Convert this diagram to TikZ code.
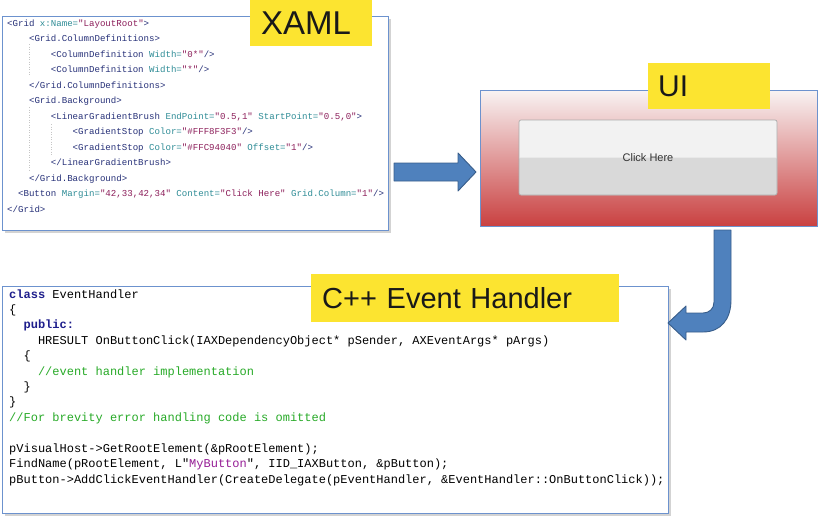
\documentclass[tikz,border=0pt]{standalone}
\usepackage{fontspec}
\setmainfont{Liberation Sans}
\newfontfamily\codefont{Liberation Mono}
\usetikzlibrary{shadows}
\definecolor{tagyellow}{RGB}{252,228,48}
\definecolor{boxline}{RGB}{108,146,206}
\definecolor{arrowfill}{RGB}{79,129,189}
\definecolor{arrowedge}{RGB}{56,93,138}
\definecolor{uitop}{RGB}{248,243,243}
\definecolor{uibot}{RGB}{201,64,64}
\definecolor{xtagc}{RGB}{38,48,120}
\definecolor{xattc}{RGB}{46,140,150}
\definecolor{xvalc}{RGB}{140,30,90}
\definecolor{ckwc}{RGB}{30,30,140}
\definecolor{ccmc}{RGB}{40,170,40}
\definecolor{cstc}{RGB}{150,30,150}
\newcommand\ind[1]{\hspace*{#1\dimexpr0.6em\relax}}
\newcommand\xtag[1]{\textcolor{xtagc}{#1}}
\newcommand\xatt[1]{\textcolor{xattc}{#1}}
\newcommand\xval[1]{\textcolor{xvalc}{#1}}
\newcommand\ckw[1]{\textcolor{ckwc}{\bfseries#1}}
\newcommand\ccm[1]{\textcolor{ccmc}{#1}}
\newcommand\cst[1]{\textcolor{cstc}{#1}}
\tikzset{
  codebox/.style={draw=boxline, fill=white, line width=0.8pt, anchor=north west,
    drop shadow={shadow xshift=2.5pt, shadow yshift=-2.5pt, opacity=0.35}},
  tagbox/.style={fill=tagyellow, anchor=north west, inner xsep=11pt, inner ysep=0pt,
    align=left, text=black!90},
  xamlline/.style={anchor=base west, inner sep=0pt, font=\codefont\fontsize{9.1}{11}\selectfont},
  cppline/.style={anchor=base west, inner sep=0pt, font=\codefont\fontsize{12}{14}\selectfont},
  blockarrow/.style={fill=arrowfill, draw=arrowedge, line width=0.9pt, line join=round},
  guide/.style={gray!45, dotted, line width=0.5pt},
  btn/.style={draw=gray!65, rounded corners=2pt, fill=gray!10, line width=0.7pt,
    font=\fontsize{11}{11}\selectfont, text=black!80,
    path picture={\fill[gray!30] (path picture bounding box.west) rectangle (path picture bounding box.south east);}},
}
\begin{document}
\begin{tikzpicture}[x=1pt,y=-1pt]
  \useasboundingbox (0,0) rectangle (818,520);
  \node[codebox, minimum width=386pt, minimum height=214pt] (xaml) at (2,16) {};
  \node[codebox, minimum width=666pt, minimum height=227pt] (cpp) at (2,286) {};
  \node[draw=boxline, line width=0.8pt, anchor=north west, top color=uitop, bottom color=uibot,
    minimum width=337pt, minimum height=136pt] (ui) at (480,90) {};
  \node[btn, minimum width=258pt, minimum height=75pt] (button) at (648,157.5) {Click Here};
  \draw[guide] (29,44) -- (29,75);
  \draw[guide] (29,107) -- (29,170);
  \draw[guide] (51,124) -- (51,155);
  \foreach \t [count=\i] in {
    {\xtag{<Grid} \xatt{x:Name=}\xval{"LayoutRoot"}\xtag{>}},
    {\ind{4}\xtag{<Grid.ColumnDefinitions>}},
    {\ind{8}\xtag{<ColumnDefinition} \xatt{Width=}\xval{"0*"}\xtag{/>}},
    {\ind{8}\xtag{<ColumnDefinition} \xatt{Width=}\xval{"*"}\xtag{/>}},
    {\ind{4}\xtag{</Grid.ColumnDefinitions>}},
    {\ind{4}\xtag{<Grid.Background>}},
    {\ind{8}\xtag{<LinearGradientBrush} \xatt{EndPoint=}\xval{"0.5,1"} \xatt{StartPoint=}\xval{"0.5,0"}\xtag{>}},
    {\ind{12}\xtag{<GradientStop} \xatt{Color=}\xval{"\#FFF8F3F3"}\xtag{/>}},
    {\ind{12}\xtag{<GradientStop} \xatt{Color=}\xval{"\#FFC94040"} \xatt{Offset=}\xval{"1"}\xtag{/>}},
    {\ind{8}\xtag{</LinearGradientBrush>}},
    {\ind{4}\xtag{</Grid.Background>}},
    {\ind{2}\xtag{<Button} \xatt{Margin=}\xval{"42,33,42,34"} \xatt{Content=}\xval{"Click Here"} \xatt{Grid.Column=}\xval{"1"}\xtag{/>}},
    {\xtag{</Grid>}}}
    \node[xamlline] (xl\i) at (7,10.5+15.5*\i) {\t};
  \foreach \t [count=\i] in {
    {\ckw{class} EventHandler},
    {\{},
    {\ind{2}\ckw{public:}},
    {\ind{4}HRESULT OnButtonClick(IAXDependencyObject* pSender, AXEventArgs* pArgs)},
    {\ind{2}\{},
    {\ind{4}\ccm{//event handler implementation}},
    {\ind{2}\}},
    {\}},
    {\ccm{//For brevity error handling code is omitted}},
    {},
    {pVisualHost->GetRootElement(\&pRootElement);},
    {FindName(pRootElement, L"\cst{MyButton}", IID\_IAXButton, \&pButton);},
    {pButton->AddClickEventHandler(CreateDelegate(pEventHandler, \&EventHandler::OnButtonClick));}}
    \node[cppline] (cl\i) at (9,282.6+15.42*\i) {\t};
  \draw[blockarrow] (394,163) -- (458,163) -- (458,153) -- (476,172) -- (458,191)
    -- (458,181) -- (394,181) -- cycle;
  \draw[blockarrow] (714,230) -- (731,230) -- (731,300) .. controls (731,319) and (721,332) .. (703,332)
    -- (686,332) -- (686,340) -- (668,323) -- (686,306) -- (686,313) -- (703,313)
    .. controls (709,313) and (714,309) .. (714,302) -- cycle;
  \node[tagbox, text width=100pt, minimum height=46pt, font=\fontsize{33}{33}\selectfont] (xamltag) at (250,0) {XAML};
  \node[tagbox, text width=102pt, minimum height=46pt, font=\fontsize{30}{30}\selectfont, inner xsep=10pt] (uitag) at (648,63) {UI};
  \node[tagbox, text width=286pt, minimum height=48pt, font=\fontsize{29}{29}\selectfont] (cpptag) at (311,274) {C++ Event Handler};
\end{tikzpicture}
\end{document}
